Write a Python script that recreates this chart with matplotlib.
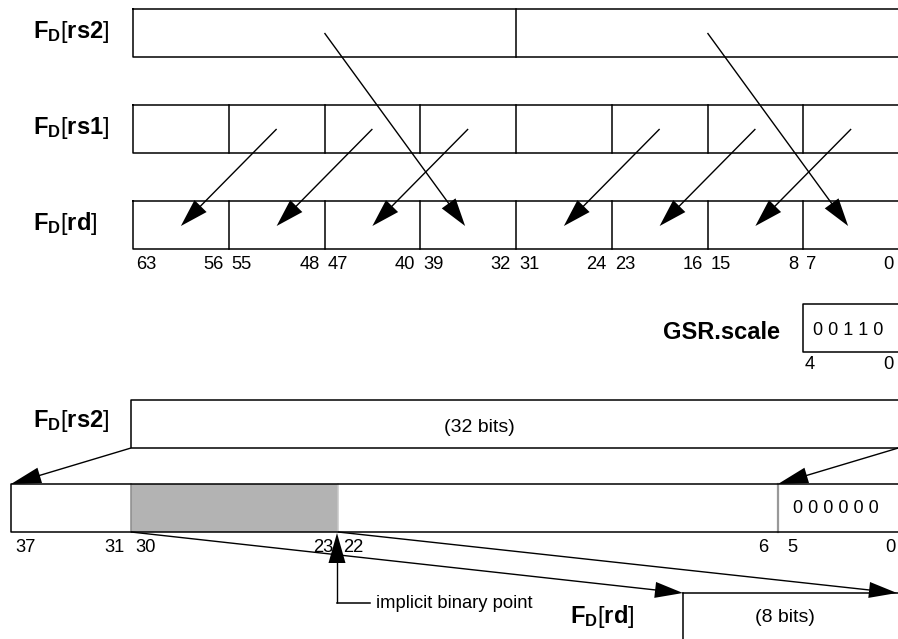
import matplotlib
matplotlib.use("Agg")
import matplotlib.pyplot as plt
import numpy as np

plt.rcParams['font.family'] = ['Liberation Sans', 'DejaVu Sans']
plt.rcParams['mathtext.fontset'] = 'custom'
plt.rcParams['mathtext.rm'] = 'Liberation Sans'
plt.rcParams['mathtext.bf'] = 'Liberation Sans:bold'

# ---- data ----
reg_labels_top = ["rs2", "rs1", "rd"]
top_bit_labels = [63, 56, 55, 48, 47, 40, 39, 32, 31, 24, 23, 16, 15, 8, 7, 0]
rs1_src_lanes = [1, 2, 3, 5, 6, 7]      # source byte lanes in rs1
rd_dst_lanes = [0, 1, 2, 4, 5, 6]       # destination lanes in rd
rs2_src_halves = [0, 1]
rs2_dst_lanes = [3, 7]
gsr_label = "GSR.scale"
gsr_value = "0 0 1 1 0"
gsr_bits = [4, 0]
shift_bits = [37, 31, 30, 23, 22, 6, 5, 0]
zero_fill = "0 0 0 0 0 0"
rs2_width_text = "(32 bits)"
rd_width_text = "(8 bits)"
note_text = "implicit binary point"

# ---- layout ----
W, H = 898, 639
fig = plt.figure(figsize=(W / 100, H / 100), dpi=100)
ax = fig.add_axes([0, 0, 1, 1])
ax.set_xlim(0, W)
ax.set_ylim(H, 0)
ax.axis('off')

LW = 1.1
DIG = 13.2
reg_left = 133
lane_w = 95.75
reg_h = 48
row_tops = [9, 105, 201]


def arrow(x0, y0, x1, y1, L=28, hw=8.5, lw=1.0):
    d = np.array([x1 - x0, y1 - y0], float)
    n = np.hypot(*d)
    u = d / n
    p = np.array([-u[1], u[0]])
    base = np.array([x1, y1]) - u * L
    ax.plot([x0, base[0] + u[0] * 2], [y0, base[1] + u[1] * 2], color='black', lw=lw,
            solid_capstyle='butt')
    tri = np.array([[x1, y1], base + p * hw, base - p * hw])
    ax.fill(tri[:, 0], tri[:, 1], color='black', lw=0)


def reg_label(x, y, name, ha='left'):
    ax.text(x, y, r"$\mathbf{F_D}\mathrm{[}\mathbf{" + name + r"}\mathrm{]}$",
            fontsize=17, ha=ha, va='baseline')


# top registers
right_edge = reg_left + 8 * lane_w
for i, top in enumerate(row_tops):
    ax.plot([reg_left, right_edge, right_edge, reg_left, reg_left],
            [top, top, top + reg_h, top + reg_h, top], color='black', lw=LW)
    if i == 0:
        xm = reg_left + 4 * lane_w
        ax.plot([xm, xm], [top, top + reg_h], color='black', lw=LW)
    else:
        for k in range(1, 8):
            xm = reg_left + k * lane_w
            ax.plot([xm, xm], [top, top + reg_h], color='black', lw=LW)
    reg_label(33, top + 29, reg_labels_top[i])

# top bit labels
for k in range(8):
    xl = reg_left + k * lane_w
    xr = xl + lane_w
    hi, lo = top_bit_labels[2 * k], top_bit_labels[2 * k + 1]
    ax.text(xl + 3, 269, str(hi), fontsize=DIG, ha='left', va='baseline')
    ax.text(xr - 5, 269, str(lo), fontsize=DIG, ha='right', va='baseline')

# rs1 -> rd arrows
ymid = [t + reg_h / 2 for t in row_tops]
for s, d in zip(rs1_src_lanes, rd_dst_lanes):
    xs = reg_left + (s + 0.5) * lane_w
    xd = reg_left + (d + 0.5) * lane_w
    arrow(xs, ymid[1], xd, ymid[2] + 1)
# rs2 -> rd arrows
for h, d in zip(rs2_src_halves, rs2_dst_lanes):
    xs = reg_left + (h * 4 + 2) * lane_w
    xd = reg_left + (d + 0.5) * lane_w - 3
    arrow(xs, ymid[0], xd, ymid[2] + 1)

# GSR.scale
ax.text(780, 339, gsr_label, fontsize=17, fontweight='bold', ha='right', va='baseline')
ax.plot([W + 5, 803, 803, W + 5], [304, 304, 352, 352], color='black', lw=LW)
ax.text(813, 335, gsr_value, fontsize=13, ha='left', va='baseline')
ax.text(805, 369, str(gsr_bits[0]), fontsize=DIG, ha='left', va='baseline')
ax.text(894, 369, str(gsr_bits[1]), fontsize=DIG, ha='right', va='baseline')

# bottom rs2 (32 bits)
b_top = 400
ax.plot([W + 5, 131, 131, W + 5], [b_top, b_top, b_top + reg_h, b_top + reg_h],
        color='black', lw=LW)
reg_label(33, 427, "rs2")
ax.text(479, 432, rs2_width_text, fontsize=14, ha='center', va='baseline')

# shift register
s_top, s_bot = 484, 532
bx = {37: 11, 30: 131, 22: 338, 5: 778}
ax.fill([bx[30], bx[22], bx[22], bx[30]], [s_top, s_top, s_bot, s_bot],
        color='#b3b3b3', lw=0)
ax.plot([bx[30], bx[30]], [s_top, s_bot], color='#8c8c8c', lw=LW)
ax.plot([bx[22], bx[22]], [s_top, s_bot], color='#c8c8c8', lw=LW)
ax.plot([bx[5], bx[5]], [s_top, s_bot], color='#999999', lw=1.6)
ax.plot([W + 5, bx[37], bx[37], W + 5], [s_top, s_top, s_bot, s_bot], color='black', lw=LW)
ax.text(793, 513, zero_fill, fontsize=13, ha='left', va='baseline')

# shift register bit labels
lab_pos = [(bx[37] + 4, 'left'), (bx[30] - 6, 'right'), (bx[30] + 4, 'left'),
           (bx[22] - 5, 'right'), (bx[22] + 5, 'left'), (bx[5] - 10, 'right'),
           (bx[5] + 9, 'left'), (W - 2, 'right')]
for b, (x, ha) in zip(shift_bits, lab_pos):
    ax.text(x, 552, str(b), fontsize=DIG, ha=ha, va='baseline')

# rs2 -> shift register arrows
arrow(131, b_top + reg_h, bx[37], s_top, L=30, hw=8)
arrow(W + 2, b_top + reg_h - 0.5, bx[5], s_top, L=30, hw=8)

# shift register -> rd arrows
rd_left, rd_top = 683, 593
arrow(bx[30], s_bot, rd_left, rd_top, L=28, hw=8)
arrow(bx[22], s_bot, W - 1, rd_top, L=28, hw=8)

# bottom rd box
ax.plot([rd_left, rd_left], [rd_top, H + 5], color='black', lw=LW)
ax.plot([rd_left, W + 5], [rd_top, rd_top], color='black', lw=LW)
reg_label(570, 623, "rd")
ax.text(785, 622, rd_width_text, fontsize=14, ha='center', va='baseline')

# implicit binary point
arrow(bx[22] - 1, 603, bx[22] - 1, s_bot + 1, L=30, hw=8.5)
ax.plot([bx[22] - 1, 370], [603, 603], color='black', lw=LW)
ax.text(376, 603, note_text, fontsize=13.2, ha='left', va='center')

fig.savefig("out.png", dpi=100)
